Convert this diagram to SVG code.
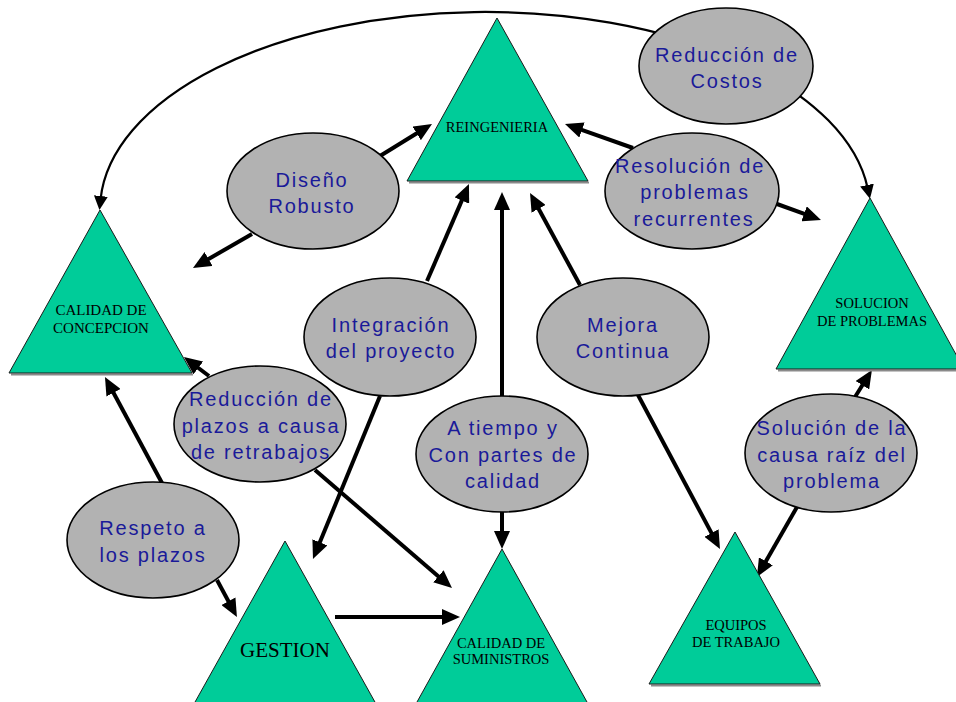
<svg xmlns="http://www.w3.org/2000/svg" width="956" height="702" viewBox="0 0 956 702">
<defs>
<style>
.tri{fill:#00CC99;stroke:#1a1a1a;stroke-width:1}
.sh{stroke:#8a8a8a;stroke-width:2}
.ell{fill:#B2B2B2;stroke:#000;stroke-width:1.6}
.tt{font-family:"Liberation Serif","Times New Roman",serif;font-size:14.5px;fill:#000;text-anchor:middle}
.et{font-family:"Liberation Sans",Arial,sans-serif;font-size:20px;letter-spacing:1.8px;fill:#1a1a99;text-anchor:middle}
.c{stroke:#000;stroke-width:4;fill:none;marker-end:url(#ah)}
.arc{stroke:#000;stroke-width:2.2;fill:none;marker-end:url(#ah2);marker-start:url(#ah2)}
</style>
<marker id="ah" markerUnits="userSpaceOnUse" markerWidth="18" markerHeight="16" refX="4" refY="8" orient="auto" viewBox="0 0 18 16">
<path d="M0,0 L18,8 L0,16 z" fill="#000"/>
</marker>
<marker id="ah2" markerUnits="userSpaceOnUse" markerWidth="14" markerHeight="14" refX="3" refY="7" orient="auto-start-reverse" viewBox="0 0 14 14">
<path d="M0,0 L14,7 L0,14 z" fill="#000"/>
</marker>
</defs>
<rect width="956" height="702" fill="#fff"/>

<g id="connectors">
<path class="arc" d="M100.59,199 A385,198 0 0 1 867.62,188"/>
<line class="c" x1="380" y1="156" x2="420.1" y2="131.3"/>
<line class="c" x1="252" y1="234" x2="205.1" y2="261"/>
<line class="c" x1="633" y1="148" x2="578.2" y2="128.7"/>
<line class="c" x1="777" y1="204" x2="807.8" y2="215.2"/>
<line class="c" x1="427" y1="281" x2="463.4" y2="196.9"/>
<line class="c" x1="380" y1="396" x2="318.3" y2="546.1"/>
<line class="c" x1="502" y1="396" x2="502" y2="206"/>
<line class="c" x1="502" y1="512" x2="502" y2="535"/>
<line class="c" x1="580" y1="285" x2="536.7" y2="205.3"/>
<line class="c" x1="638" y1="395" x2="713.4" y2="536.6"/>
<line class="c" x1="209" y1="376" x2="195.1" y2="365.5"/>
<line class="c" x1="315" y1="470" x2="441.4" y2="578.9"/>
<line class="c" x1="162" y1="483" x2="111.6" y2="389.3"/>
<line class="c" x1="217" y1="580" x2="230.3" y2="604.7"/>
<line class="c" x1="335" y1="617" x2="446" y2="617"/>
<line class="c" x1="855" y1="397" x2="864.5" y2="381.8"/>
<line class="c" x1="797" y1="507" x2="763.9" y2="564.8"/>
</g>

<g id="reingenieria">
<line class="sh" x1="409" y1="182.5" x2="589" y2="182.5"/>
<polygon class="tri" points="497,18 588,181 407,181"/>
<text class="tt" x="497" y="132">REINGENIERIA</text>
</g>
<g id="calidad-concepcion">
<line class="sh" x1="11" y1="374.5" x2="193" y2="374.5"/>
<polygon class="tri" points="100,210 192,373 9,373"/>
<text class="tt" x="101" y="315" style="font-size:15px">CALIDAD DE</text>
<text class="tt" x="101" y="333" style="font-size:15px">CONCEPCION</text>
</g>
<g id="solucion-problemas">
<line class="sh" x1="778" y1="370.5" x2="960" y2="370.5"/>
<polygon class="tri" points="870,198 964,369 776,369"/>
<text class="tt" x="872" y="308">SOLUCION</text>
<text class="tt" x="872" y="326">DE PROBLEMAS</text>
</g>
<g id="gestion">
<polygon class="tri" points="285,541 385,720 185,720"/>
<text class="tt" x="285" y="657" style="font-size:21px">GESTION</text>
</g>
<g id="calidad-suministros">
<polygon class="tri" points="502,549 597,720 407,720"/>
<text class="tt" x="501" y="648">CALIDAD DE</text>
<text class="tt" x="501" y="664">SUMINISTROS</text>
</g>
<g id="equipos-trabajo">
<line class="sh" x1="651" y1="685.5" x2="821" y2="685.5"/>
<polygon class="tri" points="735,532 820,684 649,684"/>
<text class="tt" x="736" y="630">EQUIPOS</text>
<text class="tt" x="736" y="647">DE TRABAJO</text>
</g>

<g id="reduccion-costos">
<ellipse class="ell" cx="726" cy="66" rx="87" ry="58"/>
<text class="et" x="727" y="62">Reducción de</text>
<text class="et" x="727" y="88">Costos</text>
</g>
<g id="diseno-robusto">
<ellipse class="ell" cx="313" cy="191" rx="86" ry="58"/>
<text class="et" x="312" y="187">Diseño</text>
<text class="et" x="312" y="213">Robusto</text>
</g>
<g id="resolucion-problemas">
<ellipse class="ell" cx="692" cy="191" rx="87" ry="58"/>
<text class="et" x="690" y="173">Resolución de</text>
<text class="et" x="695" y="199">problemas</text>
<text class="et" x="694" y="226">recurrentes</text>
</g>
<g id="integracion-proyecto">
<ellipse class="ell" cx="390" cy="337" rx="86" ry="59"/>
<text class="et" x="391" y="332">Integración</text>
<text class="et" x="391" y="358">del proyecto</text>
</g>
<g id="mejora-continua">
<ellipse class="ell" cx="623" cy="337" rx="86" ry="59"/>
<text class="et" x="623" y="332">Mejora</text>
<text class="et" x="623" y="358">Continua</text>
</g>
<g id="reduccion-plazos">
<ellipse class="ell" cx="260" cy="424" rx="86" ry="58"/>
<text class="et" x="261" y="406">Reducción de</text>
<text class="et" x="261" y="433">plazos a causa</text>
<text class="et" x="261" y="459">de retrabajos</text>
</g>
<g id="a-tiempo">
<ellipse class="ell" cx="502" cy="454" rx="86" ry="58"/>
<text class="et" x="503" y="435">A tiempo y</text>
<text class="et" x="503" y="462">Con partes de</text>
<text class="et" x="503" y="488">calidad</text>
</g>
<g id="solucion-causa">
<ellipse class="ell" cx="831" cy="453" rx="86" ry="59"/>
<text class="et" x="832" y="435">Solución de la</text>
<text class="et" x="832" y="462">causa raíz del</text>
<text class="et" x="832" y="488">problema</text>
</g>
<g id="respeto-plazos">
<ellipse class="ell" cx="153" cy="540" rx="86" ry="58"/>
<text class="et" x="153" y="535">Respeto a</text>
<text class="et" x="153" y="562">los plazos</text>
</g>
</svg>
